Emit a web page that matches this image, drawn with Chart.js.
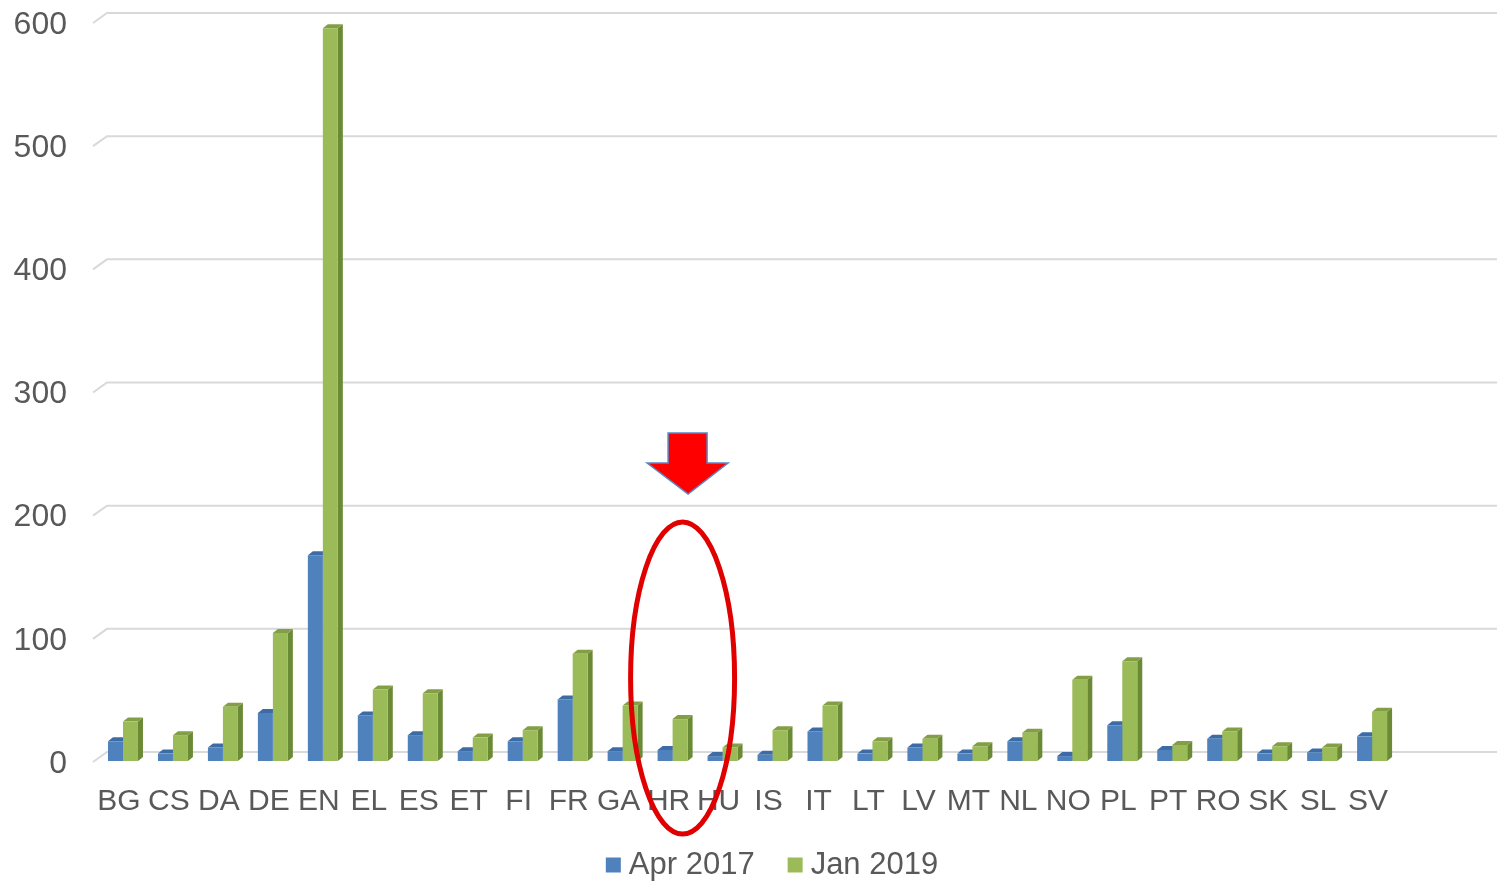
<!DOCTYPE html>
<html>
<head>
<meta charset="utf-8">
<script src="https://cdn.jsdelivr.net/npm/chart.js@4"></script>
<style>
  html, body { margin: 0; padding: 0; background: #fff; }
  #wrap { width: 1497px; height: 882px; }
</style>
</head>
<body>
<div id="wrap"><canvas id="langChart" width="1497" height="882"></canvas></div>
<script>
// data
const categories = ['BG','CS','DA','DE','EN','EL','ES','ET','FI','FR','GA','HR','HU','IS','IT','LT','LV','MT','NL','NO','PL','PT','RO','SK','SL','SV'];
const apr2017 = [16, 6, 11, 39, 167, 37, 21, 8, 16, 50, 8, 9, 4, 5, 24, 6, 11, 6, 16, 4, 29, 9, 18, 6, 7, 20];
const jan2019 = [32, 21, 44, 104, 595, 58, 55, 19, 25, 87, 45, 34, 11, 25, 45, 16, 18, 12, 23, 66, 81, 13, 24, 12, 11, 40];
const seriesNames = ['Apr 2017', 'Jan 2019'];
const yTicks = [0, 100, 200, 300, 400, 500, 600];
const emptySlots = 2; // the floor runs on past SV

const textColor = '#595959';
const fontFamily = '"Liberation Sans", Arial, sans-serif';
const colors = [
  { front: '#4f81bd', side: '#2f5b91', top: '#3c6ba6' },
  { front: '#9bbb59', side: '#6b8a35', top: '#839f45' }
];
const depthX = 5, depthY = 4;

const pad = arr => arr.concat(new Array(emptySlots).fill(null));

// back wall grid lines (3d look)
const wallGrid = {
  id: 'wallGrid',
  beforeDatasetsDraw(chart) {
    const ctx = chart.ctx, a = chart.chartArea, ys = chart.scales.y;
    ctx.save();
    ctx.strokeStyle = '#d9d9d9';
    ctx.lineWidth = 2;
    yTicks.forEach(v => {
      const p = ys.getPixelForValue(v);
      ctx.beginPath();
      ctx.moveTo(a.left - 5, p + 1);
      ctx.lineTo(a.left + 9, p - 9);
      ctx.lineTo(a.right, p - 9);
      ctx.stroke();
    });
    ctx.restore();
  }
};

// side and top faces of the columns, fronts are drawn by chart.js
const columnFaces = {
  id: 'columnFaces',
  beforeDatasetsDraw(chart) {
    const ctx = chart.ctx;
    ctx.save();
    chart.data.datasets.forEach((ds, i) => {
      const meta = chart.getDatasetMeta(i);
      meta.data.forEach((bar, j) => {
        if (ds.data[j] == null) return;
        const { x, y, base, width } = bar.getProps(['x', 'y', 'base', 'width'], true);
        const l = x - width / 2, r = x + width / 2;
        ctx.fillStyle = colors[i].side;
        ctx.beginPath();
        ctx.moveTo(r, y);
        ctx.lineTo(r + depthX, y - depthY);
        ctx.lineTo(r + depthX, base - depthY);
        ctx.lineTo(r, base);
        ctx.closePath();
        ctx.fill();
        ctx.fillStyle = colors[i].top;
        ctx.beginPath();
        ctx.moveTo(l, y);
        ctx.lineTo(l + depthX, y - depthY);
        ctx.lineTo(r + depthX, y - depthY);
        ctx.lineTo(r, y);
        ctx.closePath();
        ctx.fill();
      });
    });
    ctx.restore();
  }
};

// red arrow + ellipse around HR, and the legend
const marks = {
  id: 'marks',
  afterDraw(chart) {
    const ctx = chart.ctx, xs = chart.scales.x, ys = chart.scales.y;
    const hx = xs.getPixelForValue(categories.indexOf('HR'));
    const y0 = ys.getPixelForValue(0);
    ctx.save();

    // ellipse
    ctx.strokeStyle = '#e00000';
    ctx.lineWidth = 5;
    ctx.beginPath();
    ctx.ellipse(hx + 10, y0 - 83, 52, 156, 0, 0, Math.PI * 2);
    ctx.stroke();

    // arrow
    const ax = hx + 15.5, tip = y0 - 267;
    ctx.fillStyle = '#ff0000';
    ctx.strokeStyle = '#5b87c5';
    ctx.lineWidth = 1.5;
    ctx.beginPath();
    ctx.moveTo(ax - 20, tip - 61);
    ctx.lineTo(ax + 19, tip - 61);
    ctx.lineTo(ax + 19, tip - 31);
    ctx.lineTo(ax + 40, tip - 31);
    ctx.lineTo(ax, tip);
    ctx.lineTo(ax - 41, tip - 31);
    ctx.lineTo(ax - 20, tip - 31);
    ctx.closePath();
    ctx.fill();
    ctx.stroke();

    // legend
    ctx.font = '31px ' + fontFamily;
    ctx.textBaseline = 'middle';
    ctx.textAlign = 'left';
    const box = 15, gap = 8, itemGap = 33, ly = 865;
    const widths = seriesNames.map(n => box + gap + ctx.measureText(n).width);
    const total = widths.reduce((s, w) => s + w, 0) + itemGap * (widths.length - 1);
    let lx = 772 - total / 2;
    seriesNames.forEach((n, i) => {
      ctx.fillStyle = colors[i].front;
      ctx.fillRect(lx, ly - box / 2, box, box);
      ctx.fillStyle = textColor;
      ctx.fillText(n, lx + box + gap, ly);
      lx += widths[i] + itemGap;
    });
    ctx.restore();
  }
};

const ctx = document.getElementById('langChart').getContext('2d');
const langChart = new Chart(ctx, {
  type: 'bar',
  data: {
    labels: pad(categories),
    datasets: [{
      label: seriesNames[0],
      data: pad(apr2017),
      backgroundColor: colors[0].front,
      borderWidth: 0
    }, {
      label: seriesNames[1],
      data: pad(jan2019),
      backgroundColor: colors[1].front,
      borderWidth: 0
    }]
  },
  options: {
    responsive: false,
    animation: false,
    datasets: {
      bar: { categoryPercentage: 0.6, barPercentage: 1.0 }
    },
    layout: { padding: { left: 0, right: 0, top: 22, bottom: 60 } },
    plugins: {
      legend: { display: false },
      tooltip: { enabled: false }
    },
    scales: {
      x: {
        grid: { display: false, drawTicks: false },
        border: { display: false },
        ticks: {
          color: textColor,
          font: { family: fontFamily, size: 30 },
          padding: 23,
          labelOffset: -4,
          maxRotation: 0,
          autoSkip: false
        },
        afterFit(scale) { scale.height = 61; scale.paddingLeft = 0; scale.paddingRight = 0; }
      },
      y: {
        min: 0,
        max: 600,
        grid: { display: false, drawTicks: false },
        border: { display: false },
        ticks: {
          stepSize: 100,
          color: textColor,
          font: { family: fontFamily, size: 32 },
          padding: 31,
          labelOffset: 3
        },
        afterFit(scale) { scale.width = 98; scale.paddingTop = 0; scale.paddingBottom = 0; }
      }
    }
  },
  plugins: [wallGrid, columnFaces, marks]
});
</script>
</body>
</html>
